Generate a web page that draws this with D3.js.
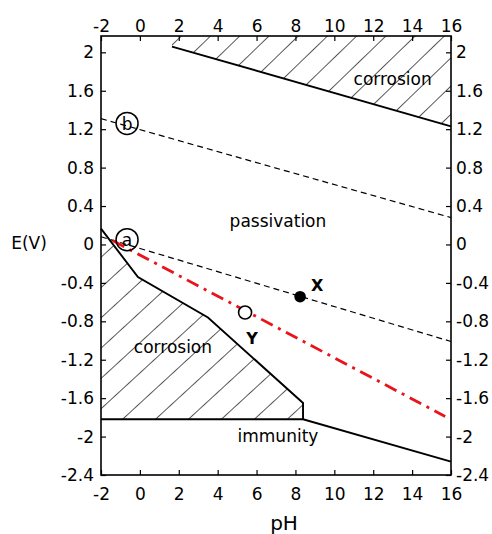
<!DOCTYPE html>
<html>
<head>
<meta charset="utf-8">
<script src="https://cdn.jsdelivr.net/npm/d3@7"></script>
<style>
  html, body { margin: 0; padding: 0; background: #fff; }
  svg { display: block; font-family: "DejaVu Sans", sans-serif; }
</style>
</head>
<body>
<svg id="chart" width="492" height="534"></svg>
<script>
// ---- data ----
const phTicks = [-2, 0, 2, 4, 6, 8, 10, 12, 14, 16];
const phTickLabels = ["-2", "0", "2", "4", "6", "8", "10", "12", "14", "16"];
const eTicks = [2, 1.6, 1.2, 0.8, 0.4, 0, -0.4, -0.8, -1.2, -1.6, -2, -2.4];
const eTickLabels = ["2", "1.6", "1.2", "0.8", "0.4", "0", "-0.4", "-0.8", "-1.2", "-1.6", "-2", "-2.4"];

// region boundaries [pH, E]
const upperCorrosionLine = [[1.65, 2.06], [16, 1.23]];
const lowerCorrosionBoundary = [[-2, 0.165], [-0.1, -0.34], [3.5, -0.76], [8.39, -1.65], [8.39, -1.82]];
const immunityTop = [[-2, -1.82], [8.39, -1.82], [16, -2.26]];
const lineB = [[-2, 1.31], [16, 0.28]];
const lineA = [[-2, 0.08], [16, -1.01]];
const redLine = [[-1.4, 0.04], [15.7, -1.79]];
const circleLabels = [{ t: "a", ph: -0.66, e: 0.05 }, { t: "b", ph: -0.66, e: 1.26 }];
const pointX = { ph: 8.24, e: -0.544 };
const pointY = { ph: 5.41, e: -0.708 };
const regionLabels = [
  { t: "corrosion", ph: 13.0, e: 1.66 },
  { t: "passivation", ph: 7.1, e: 0.18 },
  { t: "corrosion", ph: 1.7, e: -1.13 },
  { t: "immunity", ph: 7.1, e: -2.06 }
];

// ---- scales ----
const svg = d3.select("#chart");
const x = d3.scaleLinear().domain([-2, 16]).range([101, 451]);
const y = d3.scaleLinear().domain([-2.4, 2.17]).range([475, 36]);
const line = d3.line().x(d => x(d[0])).y(d => y(d[1]));

// ---- hatch patterns ----
const defs = svg.append("defs");
function hatch(id, spacing, angle, ox, oy) {
  const p = defs.append("pattern").attr("id", id)
    .attr("patternUnits", "userSpaceOnUse")
    .attr("width", spacing).attr("height", 10)
    .attr("patternTransform", `translate(${ox},${oy}) rotate(${angle})`);
  p.append("line").attr("x1", 0).attr("y1", -5).attr("x2", 0).attr("y2", 15)
    .attr("stroke", "#000").attr("stroke-width", 1.3);
}
hatch("hatchLow", 22.3, 47.4, x(-0.93), y(-1.82));
hatch("hatchUp", 20.3, 46, x(3.6), y(2.17));

// lower corrosion hatched area
const lowPoly = lowerCorrosionBoundary.concat([[-2, -1.82]]);
svg.append("path").attr("d", line(lowPoly) + "Z").attr("fill", "url(#hatchLow)");
// upper corrosion hatched area
const upPoly = [upperCorrosionLine[0], upperCorrosionLine[1], [16, 2.17], [upperCorrosionLine[0][0], 2.17]];
svg.append("path").attr("d", line(upPoly) + "Z").attr("fill", "url(#hatchUp)");

// ---- frame ----
svg.append("rect").attr("x", x(-2)).attr("y", y(2.17))
  .attr("width", x(16) - x(-2)).attr("height", y(-2.4) - y(2.17))
  .attr("fill", "none").attr("stroke", "#000").attr("stroke-width", 1.6);

// ---- axes ----
const fs = "17px";
function styleAxis(g) {
  g.select(".domain").remove();
  g.selectAll(".tick line").attr("stroke", "#000").attr("stroke-width", 1.2);
  g.selectAll(".tick text").attr("fill", "#000").style("font-size", fs)
    .style("font-family", "'DejaVu Sans', sans-serif");
}
svg.append("g").attr("transform", `translate(0,${y(-2.4)})`)
  .call(d3.axisBottom(x).tickValues(phTicks).tickSize(-5).tickPadding(13).tickFormat((d, i) => phTickLabels[i]))
  .call(styleAxis);
svg.append("g").attr("transform", `translate(0,${y(2.17)})`)
  .call(d3.axisTop(x).tickValues(phTicks).tickSize(-5).tickPadding(4).tickFormat((d, i) => phTickLabels[i]))
  .call(styleAxis);
svg.append("g").attr("transform", `translate(${x(-2)},0)`)
  .call(d3.axisLeft(y).tickValues(eTicks).tickSize(-5).tickPadding(7).tickFormat((d, i) => eTickLabels[i]))
  .call(styleAxis);
svg.append("g").attr("transform", `translate(${x(16)},0)`)
  .call(d3.axisRight(y).tickValues(eTicks).tickSize(-5).tickPadding(5).tickFormat((d, i) => eTickLabels[i]))
  .call(styleAxis);

// ---- boundary lines ----
const solid = (pts) => svg.append("path").attr("d", line(pts)).attr("fill", "none")
  .attr("stroke", "#000").attr("stroke-width", 1.9).attr("stroke-linejoin", "miter");
solid(upperCorrosionLine);
solid(lowerCorrosionBoundary);
solid(immunityTop);

// dashed water lines
[lineB, lineA].forEach(pts => svg.append("path").attr("d", line(pts)).attr("fill", "none")
  .attr("stroke", "#000").attr("stroke-width", 1.2).attr("stroke-dasharray", "6,4"));

// red dash-dot line
svg.append("path").attr("d", line(redLine)).attr("fill", "none")
  .attr("stroke", "#e8131b").attr("stroke-width", 2.8).attr("stroke-dasharray", "13,6,3,6");

// circled letters
circleLabels.forEach(c => {
  svg.append("circle").attr("cx", x(c.ph)).attr("cy", y(c.e)).attr("r", 11)
    .attr("fill", "none").attr("stroke", "#000").attr("stroke-width", 1.5);
  svg.append("text").attr("x", x(c.ph)).attr("y", y(c.e)).attr("dy", "0.36em")
    .attr("text-anchor", "middle").style("font-size", "17px").attr("fill", "#000").text(c.t);
});

// points X and Y
svg.append("circle").attr("cx", x(pointX.ph)).attr("cy", y(pointX.e)).attr("r", 5.8).attr("fill", "#000");
svg.append("text").attr("x", x(pointX.ph) + 11).attr("y", y(pointX.e) - 6)
  .style("font-size", "16px").style("font-weight", "bold").attr("fill", "#000").text("X");
svg.append("circle").attr("cx", x(pointY.ph)).attr("cy", y(pointY.e)).attr("r", 6.5)
  .attr("fill", "#fff").attr("stroke", "#000").attr("stroke-width", 1.6);
svg.append("text").attr("x", x(pointY.ph) + 7).attr("y", y(pointY.e) + 32)
  .attr("text-anchor", "middle")
  .style("font-size", "16px").style("font-weight", "bold").attr("fill", "#000").text("Y");

// region labels
regionLabels.forEach(r => svg.append("text").attr("x", x(r.ph)).attr("y", y(r.e))
  .attr("text-anchor", "middle").style("font-size", "17px").attr("fill", "#000").text(r.t));

// axis titles
svg.append("text").attr("x", 29).attr("y", 249).attr("text-anchor", "middle")
  .style("font-size", "17px").attr("fill", "#000").text("E(V)");
svg.append("text").attr("x", 284).attr("y", 530).attr("text-anchor", "middle")
  .style("font-size", "20px").attr("fill", "#000").text("pH");
</script>
</body>
</html>
